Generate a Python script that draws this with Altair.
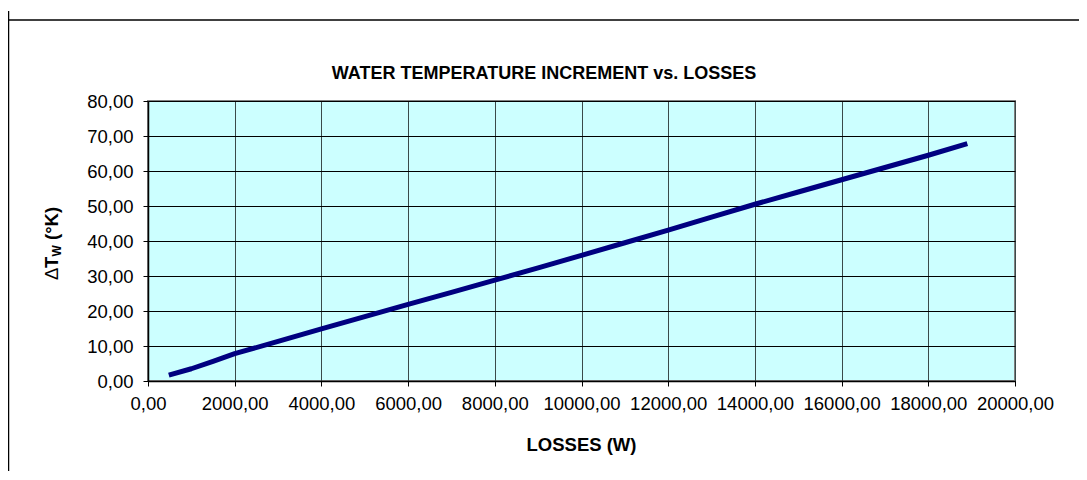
import altair as alt
import pandas as pd

# Data
losses = [480, 1000, 1500, 2000, 3000, 4000, 5000, 6000, 7000, 8000, 9000,
          10000, 11000, 12000, 13000, 14000, 15000, 16000, 17000, 18000, 18900]
delta_t = [1.7, 3.5, 5.6, 7.8, 11.3, 14.9, 18.4, 21.9, 25.3, 28.8, 32.3,
           35.9, 39.5, 43.1, 46.8, 50.5, 54.0, 57.5, 61.0, 64.5, 67.8]
x_ticks = [0, 2000, 4000, 6000, 8000, 10000, 12000, 14000, 16000, 18000, 20000]
y_ticks = [0, 10, 20, 30, 40, 50, 60, 70, 80]

title_text = "WATER TEMPERATURE INCREMENT vs. LOSSES"
x_title = "LOSSES (W)"

df = pd.DataFrame({"losses": losses, "dt": delta_t})
one = alt.Data(values=[{"k": 1}])

FONT = "Liberation Sans"
fmt = "replace(format(datum.value, '.2f'), '.', ',')"

W, H = 867, 280

line = alt.Chart(df).mark_line(
    color="#000080", strokeWidth=5, strokeCap="butt", strokeJoin="round"
).encode(
    x=alt.X("losses:Q",
            scale=alt.Scale(domain=[0, 20000], nice=False, zero=False),
            axis=alt.Axis(values=x_ticks, labelExpr=fmt, title=None,
                          gridColor="#3a4a4a", labelPadding=8,
                          labelOverlap=False, labelBound=False,
                          labelFlush=False)),
    y=alt.Y("dt:Q",
            scale=alt.Scale(domain=[0, 80], nice=False),
            axis=alt.Axis(values=y_ticks, labelExpr=fmt, title=None,
                          gridColor="#000000", labelPadding=10,
                          labelOverlap=False, labelFlush=False)),
)

def txt(text, x, y, size=18.5, weight="bold", angle=0, align="center"):
    return alt.Chart(one).mark_text(
        text=text, font=FONT, fontSize=size, fontWeight=weight,
        angle=angle, align=align, baseline="middle", color="black"
    ).encode(x=alt.value(x), y=alt.value(y))

title = txt(title_text, 396, -27, size=18)
xt = txt(x_title, W / 2, 344)

yt_delta = txt("\u0394", -96, 179, weight="normal", angle=270, align="left")
yt_t = txt("T", -96, 167, angle=270, align="left")
yt_w = txt("W", -91, 155.5, size=12, angle=270, align="left")
yt_k = txt("(\u00b0K)", -96, 139, angle=270, align="left")

border_left = alt.Chart(one).mark_rule(color="black", strokeWidth=1.5).encode(
    x=alt.value(-139.5), y=alt.value(-90), y2=alt.value(420))
border_top = alt.Chart(one).mark_rule(color="black", strokeWidth=1.5).encode(
    x=alt.value(-140), x2=alt.value(960), y=alt.value(-81))

chart = alt.layer(
    line, title, xt, yt_delta, yt_t, yt_w, yt_k, border_left, border_top
).properties(
    width=W, height=H,
    autosize=alt.AutoSizeParams(type="none"),
    padding={"left": 140, "top": 93, "right": 64, "bottom": 90},
    background="white",
).configure_view(
    stroke="#808080", strokeWidth=2, fill="#CCFFFF"
).configure_axis(
    labelFont=FONT, labelFontSize=18.5, labelColor="black",
    domainColor="black", domainWidth=1.5,
    tickColor="black", tickSize=5, tickWidth=1,
    gridWidth=1, gridOpacity=1,
)

chart.save("out.html", embed_options={"renderer": "svg", "actions": False})
